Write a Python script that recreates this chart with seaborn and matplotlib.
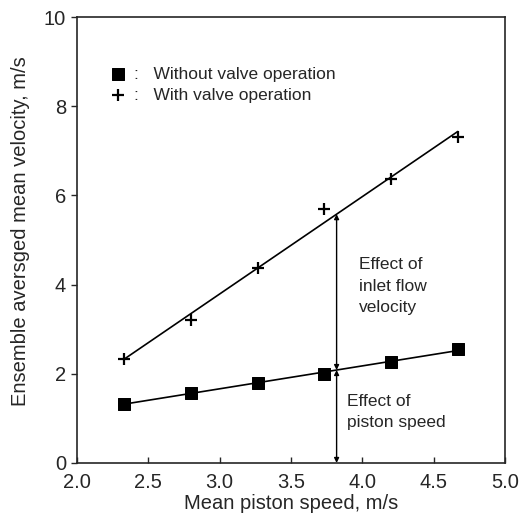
import numpy as np
import pandas as pd
import matplotlib
matplotlib.use("Agg")
import matplotlib.pyplot as plt
import seaborn as sns

piston_speed = [2.33, 2.80, 3.27, 3.73, 4.20, 4.67]
without_valve = [1.33, 1.57, 1.80, 2.00, 2.27, 2.55]
with_valve = [2.33, 3.20, 4.38, 5.70, 6.38, 7.30]
arrow_x = 3.82
x_ticks = [2.0, 2.5, 3.0, 3.5, 4.0, 4.5, 5.0]
y_ticks = [0, 2, 4, 6, 8, 10]

sns.set_style("ticks")
plt.rcParams['font.family'] = ['Liberation Sans', 'DejaVu Sans']

fig = plt.figure(figsize=(5.21, 5.19), dpi=100)
ax = fig.add_axes([0.148, 0.108, 0.821, 0.859])

df = pd.DataFrame({"x": piston_speed, "without": without_valve, "with": with_valve})

# fitted lines
xs = np.array(piston_speed)
p_w = np.polyfit(xs, with_valve, 1)
p_wo = np.polyfit(xs, without_valve, 1)
fit = pd.DataFrame({"x": xs, "fw": np.polyval(p_w, xs), "fwo": np.polyval(p_wo, xs)})
sns.lineplot(data=fit, x="x", y="fw", ax=ax, color="black", lw=1.2)
sns.lineplot(data=fit, x="x", y="fwo", ax=ax, color="black", lw=1.2)

sns.scatterplot(data=df, x="x", y="without", ax=ax, marker="s", s=80, color="black",
                edgecolor="black", label=":   Without valve operation")
sns.scatterplot(data=df, x="x", y="with", ax=ax, marker="+", s=80, color="black",
                linewidth=1.6, label=":   With valve operation")

# arrows
y_mid = np.polyval(p_wo, arrow_x)
y_top = np.polyval(p_w, arrow_x)
ax.annotate("", xy=(arrow_x, 0), xytext=(arrow_x, y_mid),
            arrowprops=dict(arrowstyle="<|-|>", color="black", lw=1, mutation_scale=7,
                            shrinkA=0, shrinkB=0))
ax.annotate("", xy=(arrow_x, y_mid), xytext=(arrow_x, y_top),
            arrowprops=dict(arrowstyle="<|-|>", color="black", lw=1, mutation_scale=7,
                            shrinkA=0, shrinkB=0))

ax.text(3.98, 4.62, "Effect of\ninlet flow\nvelocity", fontsize=12.5, va="top", ha="left", linespacing=1.55)
ax.text(3.89, 1.55, "Effect of\npiston speed", fontsize=12.5, va="top", ha="left", linespacing=1.55)

ax.set_xlim(2.0, 5.0)
ax.set_ylim(0, 10)
ax.set_xticks(x_ticks)
ax.set_xticklabels([f"{t:.1f}" for t in x_ticks])
ax.set_yticks(y_ticks)
ax.tick_params(axis="x", direction="in", length=4, labelsize=14.5, width=1, pad=7)
ax.tick_params(axis="y", direction="out", length=4, labelsize=14.5, width=1, pad=4)
ax.set_xlabel("Mean piston speed, m/s", fontsize=14.5)
ax.set_ylabel("Ensemble aversged mean velocity, m/s", fontsize=14.5)
ax.xaxis.set_label_coords(0.5, -0.07)
ax.yaxis.set_label_coords(-0.11, 0.52)
for s in ax.spines.values():
    s.set_linewidth(1.2)
    s.set_visible(True)

leg = ax.legend(loc="upper left", bbox_to_anchor=(0.055, 0.905), frameon=False, fontsize=12.5,
                handletextpad=0.3, borderaxespad=0, labelspacing=0.35, handlelength=1.2)

fig.savefig("out.png", dpi=100)
